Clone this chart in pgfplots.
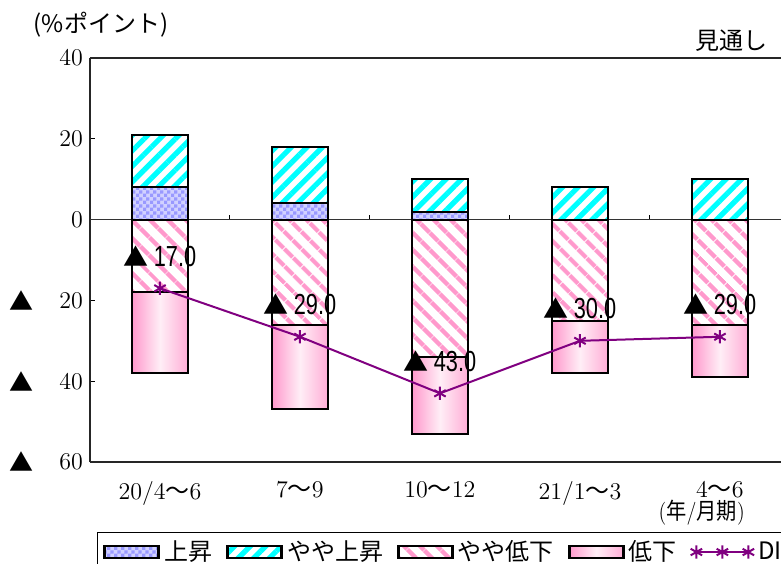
\documentclass[border=0pt]{standalone}
\usepackage{fontspec}
\usepackage{pgfplots}
\pgfplotsset{compat=1.18}
\usetikzlibrary{patterns,patterns.meta}
\newfontfamily\cjk{Noto Sans CJK JP}
\setsansfont{Liberation Sans}
\definecolor{cyanS}{HTML}{00FFFF}
\definecolor{pinkS}{HTML}{FF99CC}
\definecolor{pinkD}{HTML}{FF99CC}
\definecolor{pinkL}{HTML}{FFEEF6}
\definecolor{lav}{HTML}{9999FF}
\definecolor{di}{HTML}{800080}
\pgfdeclarepatternformonly{checker}{\pgfpointorigin}{\pgfpoint{3.6pt}{3.6pt}}{\pgfpoint{3.6pt}{3.6pt}}{%
 \pgfpathrectangle{\pgfpointorigin}{\pgfpoint{1.8pt}{1.8pt}}%
 \pgfpathrectangle{\pgfpoint{1.8pt}{1.8pt}}{\pgfpoint{1.8pt}{1.8pt}}%
 \pgfusepath{fill}}
\protected\def\tri{{\cjk ▲}}
\tikzset{
  upS/.style={fill=lav!45, postaction={pattern=checker, pattern color=lav}},
  midupS/.style={pattern={Lines[angle=45,distance=5.5pt,line width=2.6pt]}, pattern color=cyanS},
  middownS/.style={pattern={Lines[angle=-45,distance=6.5pt,line width=2.4pt]}, pattern color=pinkS},
  downS/.style={left color=pinkD, right color=pinkD!80, middle color=pinkL},
}
\pgfplotsset{
  common/.style={width=345.5pt, height=202pt, scale only axis,
    xmin=-0.5, xmax=4.436, ymin=-60, ymax=40, clip=false,
    font=\fontsize{12}{14}\selectfont},
  barleg/.style={legend image code/.code={\draw[##1,line width=1.4pt] (0pt,-3pt) rectangle (27pt,3pt);}},
  dileg/.style={legend image code/.code={\draw[##1] plot coordinates {(0pt,0pt) (13pt,0pt) (26pt,0pt)};}},
}
% one negative bar: x, やや低下, 低下
\newcommand{\negbar}[3]{%
\begin{axis}[common, ybar stacked, bar width=28pt, hide axis]
\addplot[draw=black, line width=1pt, middownS] coordinates {(#1,#2)};
\addplot[draw=black, line width=1pt, downS] coordinates {(#1,#3)};
\end{axis}}
\begin{document}
\begin{tikzpicture}
% ---- axis 1: frame + positive bars
\begin{axis}[common, ybar stacked, bar width=28pt,
  separate axis lines,
  axis x line*=bottom, axis y line*=left,
  axis line style={line width=0.75pt, black!85},
  ytick={-60,-40,-20,0,20,40},
  yticklabels={60,40,20,0,20,40},
  ytick pos=left, tick align=inside, major tick length=2.5pt,
  ytick style={line width=0.6pt, black},
  xtick={0,1,2,3,4},
  xticklabels={{20/4{\cjk 〜}6},{7{\cjk 〜}9},{10{\cjk 〜}12},{21/1{\cjk 〜}3},{4{\cjk 〜}6}},
  xtick style={draw=none},
  xticklabel style={yshift=-6pt},
]
\draw[line width=0.75pt, black!85] (rel axis cs:0,1) -- (rel axis cs:1,1);
\draw[line width=0.5pt, black!80] (axis cs:-0.5,0) -- (axis cs:4.436,0);
\draw[line width=0.5pt] (axis cs:0.5,0) -- (axis cs:0.5,1.25);
\draw[line width=0.5pt] (axis cs:1.5,0) -- (axis cs:1.5,1.25);
\draw[line width=0.5pt] (axis cs:2.5,0) -- (axis cs:2.5,1.25);
\draw[line width=0.5pt] (axis cs:3.5,0) -- (axis cs:3.5,1.25);
\node[font=\cjk\fontsize{12}{14}\selectfont] at (rel axis cs:0,0.4) [xshift=-34pt] {▲};
\node[font=\cjk\fontsize{12}{14}\selectfont] at (rel axis cs:0,0.2) [xshift=-34pt] {▲};
\node[font=\cjk\fontsize{12}{14}\selectfont] at (rel axis cs:0,0) [xshift=-34pt] {▲};
\addplot[draw=black, line width=1pt, upS] coordinates {(0,8) (1,4) (2,2) (3,0) (4,0)};
\addplot[draw=black, line width=1pt, midupS] coordinates {(0,13) (1,14) (2,8) (3,8) (4,10)};
\node[font=\cjk\fontsize{12}{14}\selectfont] at (rel axis cs:0,1) [xshift=5.5pt, yshift=16.5pt] {(\%ポイント)};
\node[font=\cjk\fontsize{12}{14}\selectfont, anchor=east] at (rel axis cs:1,1) [xshift=-3pt, yshift=8.5pt] {見通し};
\node[font=\fontsize{11.5}{13}\selectfont] at (axis cs:3.87,-60) [yshift=-25.5pt] {\scalebox{0.88}[1]{({\cjk 年}/{\cjk 月期})}};
\end{axis}
% ---- negative bars, one stacked axis each (per-bar shading)
\negbar{0}{-18}{-20}
\negbar{1}{-26}{-21}
\negbar{2}{-34}{-19}
\negbar{3}{-25}{-13}
\negbar{4}{-26}{-13}
% ---- DI line, labels, legend
\begin{axis}[common, hide axis,
  legend style={at={(0.0101,-0.1733)}, anchor=north west, draw=black, line width=0.5pt,
    font=\cjk\fontsize{12}{14}\selectfont, inner xsep=3pt, inner ysep=2pt},
  legend columns=-1,
  legend cell align=left,
  /tikz/every even column/.append style={column sep=5pt},
]
\addlegendimage{barleg, draw=black, upS}
\addlegendentry{上昇}
\addlegendimage{barleg, draw=black, midupS}
\addlegendentry{やや上昇}
\addlegendimage{barleg, draw=black, middownS}
\addlegendentry{やや低下}
\addlegendimage{barleg, draw=black, downS}
\addlegendentry{低下}
\addplot[color=di, line width=1pt, mark=asterisk, mark size=3.3pt, mark options={solid},
  dileg,
  point meta=explicit symbolic,
  nodes near coords={\tri\hspace{2.5pt}\scalebox{0.75}[1]{\sffamily\fontsize{14.5}{16}\selectfont\pgfplotspointmeta}},
  nodes near coords style={text=black, anchor=center, yshift=16pt, font=\fontsize{12.5}{14}\selectfont},
] table[meta=lab] {
x y lab
0 -17 17.0
1 -29 29.0
2 -43 43.0
3 -30 30.0
4 -29 29.0
};
\addlegendentry{DI}
\end{axis}
\pgfresetboundingbox
\useasboundingbox (-45pt,-50.5pt) rectangle (345.5pt,231pt);
\end{tikzpicture}
\end{document}
